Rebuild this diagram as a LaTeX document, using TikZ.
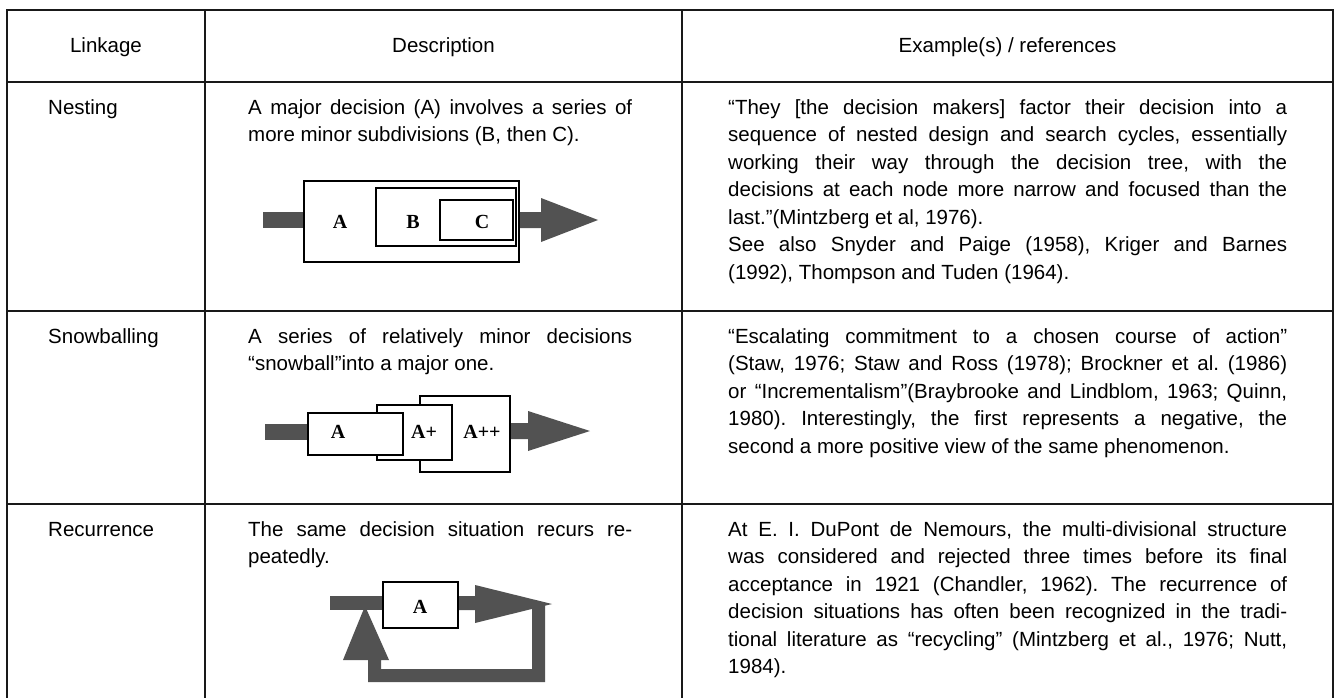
\documentclass[tikz,border=0pt]{standalone}
\usepackage{fontspec}
\setmainfont{Liberation Sans}
\newfontfamily\boxfont{Liberation Serif}
\newcommand\jline[1]{\makebox[\linewidth][s]{#1}}
\frenchspacing
\begin{document}
\begin{tikzpicture}[x=1pt,y=-1pt,
  tbl/.style={line width=1.5pt, draw=black!90},
  hdr/.style={inner sep=0pt, anchor=base, font=\fontsize{20.5}{27.5}\selectfont},
  cell/.style={inner sep=0pt, anchor=base west, font=\fontsize{20.5}{27.5}\selectfont\frenchspacing},
  dbox/.style={draw, line width=2.4pt, fill=white, inner sep=0pt},
  lab/.style={inner sep=0pt, font=\boxfont\bfseries\fontsize{20}{24}\selectfont},
  arr/.style={fill=black!68, draw=none}]
\fill[white] (0,0) rectangle (1335,698);
\useasboundingbox (0,0) rectangle (1335,698);

% table frame (bottom edge is cut off in the original)
\draw[tbl] (7,698) -- (7,10) -- (1333,10) -- (1333,698);
\draw[tbl] (7,82) -- (1333,82);
\draw[tbl] (7,311) -- (1333,311);
\draw[tbl] (7,504) -- (1333,504);
\draw[tbl] (205,10) -- (205,698);
\draw[tbl] (682,10) -- (682,698);

% header
\node[hdr] (h1) at (106,53) {Linkage};
\node[hdr] (h2) at (443.5,53) {Description};
\node[hdr] (h3) at (1007.5,53) {Example(s) / references};

% column 1
\node[cell] (l1) at (48,114) {Nesting};
\node[cell] (l2) at (48,343) {Snowballing};
\node[cell] (l3) at (48,536) {Recurrence};

% descriptions
\node[cell] (d1) at (248,114) {\parbox[t]{384pt}{\jline{A major decision (A) involves a series of}\\more minor subdivisions (B, then C).}};
\node[cell] (d2) at (248,343) {\parbox[t]{384pt}{\jline{A series of relatively minor decisions}\\“snowball”into a major one.}};
\node[cell] (d3) at (248,536) {\parbox[t]{384pt}{\jline{The same decision situation recurs re-}\\peatedly.}};

% examples
\node[cell] (e1) at (728,114) {\parbox[t]{559pt}{%
\jline{“They [the decision makers] factor their decision into a}\\
\jline{sequence of nested design and search cycles, essentially}\\
\jline{working their way through the decision tree, with the}\\
\jline{decisions at each node more narrow and focused than the}\\
last.”(Mintzberg et al, 1976).\\
\jline{See also Snyder and Paige (1958), Kriger and Barnes}\\
(1992), Thompson and Tuden (1964).}};
\node[cell] (e2) at (728,343) {\parbox[t]{559pt}{%
\jline{“Escalating commitment to a chosen course of action”}\\
\jline{(Staw, 1976; Staw and Ross (1978); Brockner et al. (1986)}\\
\jline{or “Incrementalism”(Braybrooke and Lindblom, 1963; Quinn,}\\
\jline{1980). Interestingly, the first represents a negative, the}\\
second a more positive view of the same phenomenon.}};
\node[cell] (e3) at (728,536) {\parbox[t]{559pt}{%
\jline{At E. I. DuPont de Nemours, the multi-divisional structure}\\
\jline{was considered and rejected three times before its final}\\
\jline{acceptance in 1921 (Chandler, 1962). The recurrence of}\\
\jline{decision situations has often been recognized in the tradi-}\\
\jline{tional literature as “recycling” (Mintzberg et al., 1976; Nutt,}\\
1984).}};

% ---- Nesting diagram
\fill[arr] (263,212) rectangle (306,228);
\fill[arr] (517,212) -- (541,212) -- (541,198) -- (598,220) -- (541,242) -- (541,228) -- (517,228) -- cycle;
\node[dbox, minimum width=215pt, minimum height=81pt] (nA) at (411.5,221.5) {};
\node[dbox, minimum width=140pt, minimum height=58pt] (nB) at (446,217) {};
\node[dbox, minimum width=73pt, minimum height=40pt] (nC) at (476.5,220) {};
\node[lab] (tA) at (340,222) {A};
\node[lab] (tB) at (413,222) {B};
\node[lab] (tC) at (482,222) {C};

% ---- Snowballing diagram
\fill[arr] (265,424) rectangle (310,440);
\fill[arr] (508,423) -- (528,423) -- (528,411) -- (590,431) -- (528,451) -- (528,439) -- (508,439) -- cycle;
\node[dbox, minimum width=90pt, minimum height=76pt] (sC) at (465,434) {};
\node[dbox, minimum width=75pt, minimum height=55pt] (sB) at (414.5,432.5) {};
\node[dbox, minimum width=95pt, minimum height=42pt] (sA) at (355.5,434) {};
\node[lab] (uA) at (338,432) {A};
\node[lab] (uB) at (424,432) {A+};
\node[lab] (uC) at (482,432) {A++};

% ---- Recurrence diagram
\fill[arr] (330,596) rectangle (385,610);
\fill[arr] (456,596) -- (475,596) -- (475,585) -- (552,604) -- (475,623) -- (475,610) -- (456,610) -- cycle;
\fill[arr] (545,604) -- (545,682) -- (368,682) -- (368,660) -- (343,660) -- (365,606)
  -- (389,660) -- (381,660) -- (381,669) -- (532,669) -- (532,604) -- cycle;
\node[dbox, minimum width=75pt, minimum height=46pt] (rA) at (420.5,605) {};
\node[lab] (vA) at (420,607) {A};
\end{tikzpicture}
\end{document}
